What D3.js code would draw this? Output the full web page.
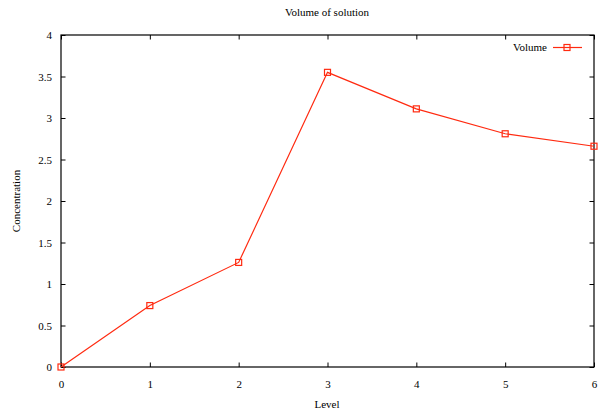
<!DOCTYPE html>
<html>
<head>
<meta charset="utf-8">
<script src="https://cdn.jsdelivr.net/npm/d3@7"></script>
<style>
  html, body { margin: 0; padding: 0; background: #fff; }
  text { font-family: "Liberation Serif", "DejaVu Serif", serif; font-size: 11px; fill: #000; }
</style>
</head>
<body>
<svg id="chart" width="603" height="416"></svg>
<script>
// Concentration measured at each level
const levels = [0, 1, 2, 3, 4, 5, 6];
const volume = [0, 0.74, 1.26, 3.55, 3.11, 2.81, 2.66];
const xTicks = [0, 1, 2, 3, 4, 5, 6];
const yTicks = [0, 0.5, 1, 1.5, 2, 2.5, 3, 3.5, 4];

const svg = d3.select("#chart");
const m = { left: 61, right: 594, top: 35, bottom: 367 };
const color = "#ff2a10";
const tickLen = 4.5;

const x = d3.scaleLinear().domain([0, 6]).range([m.left, m.right]);
const y = d3.scaleLinear().domain([0, 4]).range([m.bottom, m.top]);

// Axes with inward ticks on all four sides
svg.append("g").attr("transform", `translate(0,${m.bottom})`)
  .call(d3.axisBottom(x).tickValues(xTicks).tickSizeInner(-tickLen).tickSizeOuter(0).tickPadding(13).tickFormat(d3.format("d")));
svg.append("g").attr("transform", `translate(0,${m.top})`)
  .call(d3.axisTop(x).tickValues(xTicks).tickSizeInner(-tickLen).tickSizeOuter(0).tickFormat(""));
svg.append("g").attr("transform", `translate(${m.left},0)`)
  .call(d3.axisLeft(y).tickValues(yTicks).tickSizeInner(-tickLen).tickSizeOuter(0).tickPadding(9).tickFormat(d => String(d)));
svg.append("g").attr("transform", `translate(${m.right},0)`)
  .call(d3.axisRight(y).tickValues(yTicks).tickSizeInner(-tickLen).tickSizeOuter(0).tickFormat(""));

svg.selectAll(".domain").remove();
svg.selectAll(".tick line").attr("stroke", "#000").attr("stroke-width", 1);
svg.selectAll(".tick text").style("font-family", "Liberation Serif, serif").style("font-size", "11px").attr("fill", "#000");

// Plot frame
svg.append("rect")
  .attr("x", m.left).attr("y", m.top)
  .attr("width", m.right - m.left).attr("height", m.bottom - m.top)
  .attr("fill", "none").attr("stroke", "#000").attr("stroke-width", 1.2);

// Data line and square markers
const pts = levels.map((l, i) => [l, volume[i]]);
svg.append("path")
  .datum(pts)
  .attr("fill", "none").attr("stroke", color).attr("stroke-width", 1.2)
  .attr("d", d3.line().x(d => x(d[0])).y(d => y(d[1])));

const ms = 6;
svg.selectAll("rect.pt").data(pts).join("rect").attr("class", "pt")
  .attr("x", d => x(d[0]) - ms / 2).attr("y", d => y(d[1]) - ms / 2)
  .attr("width", ms).attr("height", ms)
  .attr("fill", "none").attr("stroke", color).attr("stroke-width", 1.2);

// Legend
const lg = svg.append("g");
lg.append("text").attr("x", 547).attr("y", 51).attr("text-anchor", "end").text("Volume");
lg.append("line").attr("x1", 553).attr("x2", 582).attr("y1", 47.5).attr("y2", 47.5)
  .attr("stroke", color).attr("stroke-width", 1.2);
lg.append("rect").attr("x", 567 - ms / 2).attr("y", 47.5 - ms / 2).attr("width", ms).attr("height", ms)
  .attr("fill", "none").attr("stroke", color).attr("stroke-width", 1.2);

// Titles
svg.append("text").attr("x", 327).attr("y", 16).attr("text-anchor", "middle").text("Volume of solution");
svg.append("text").attr("x", 327).attr("y", 408).attr("text-anchor", "middle").text("Level");
svg.append("text").attr("transform", "translate(20,201) rotate(-90)").attr("text-anchor", "middle").text("Concentration");
</script>
</body>
</html>
